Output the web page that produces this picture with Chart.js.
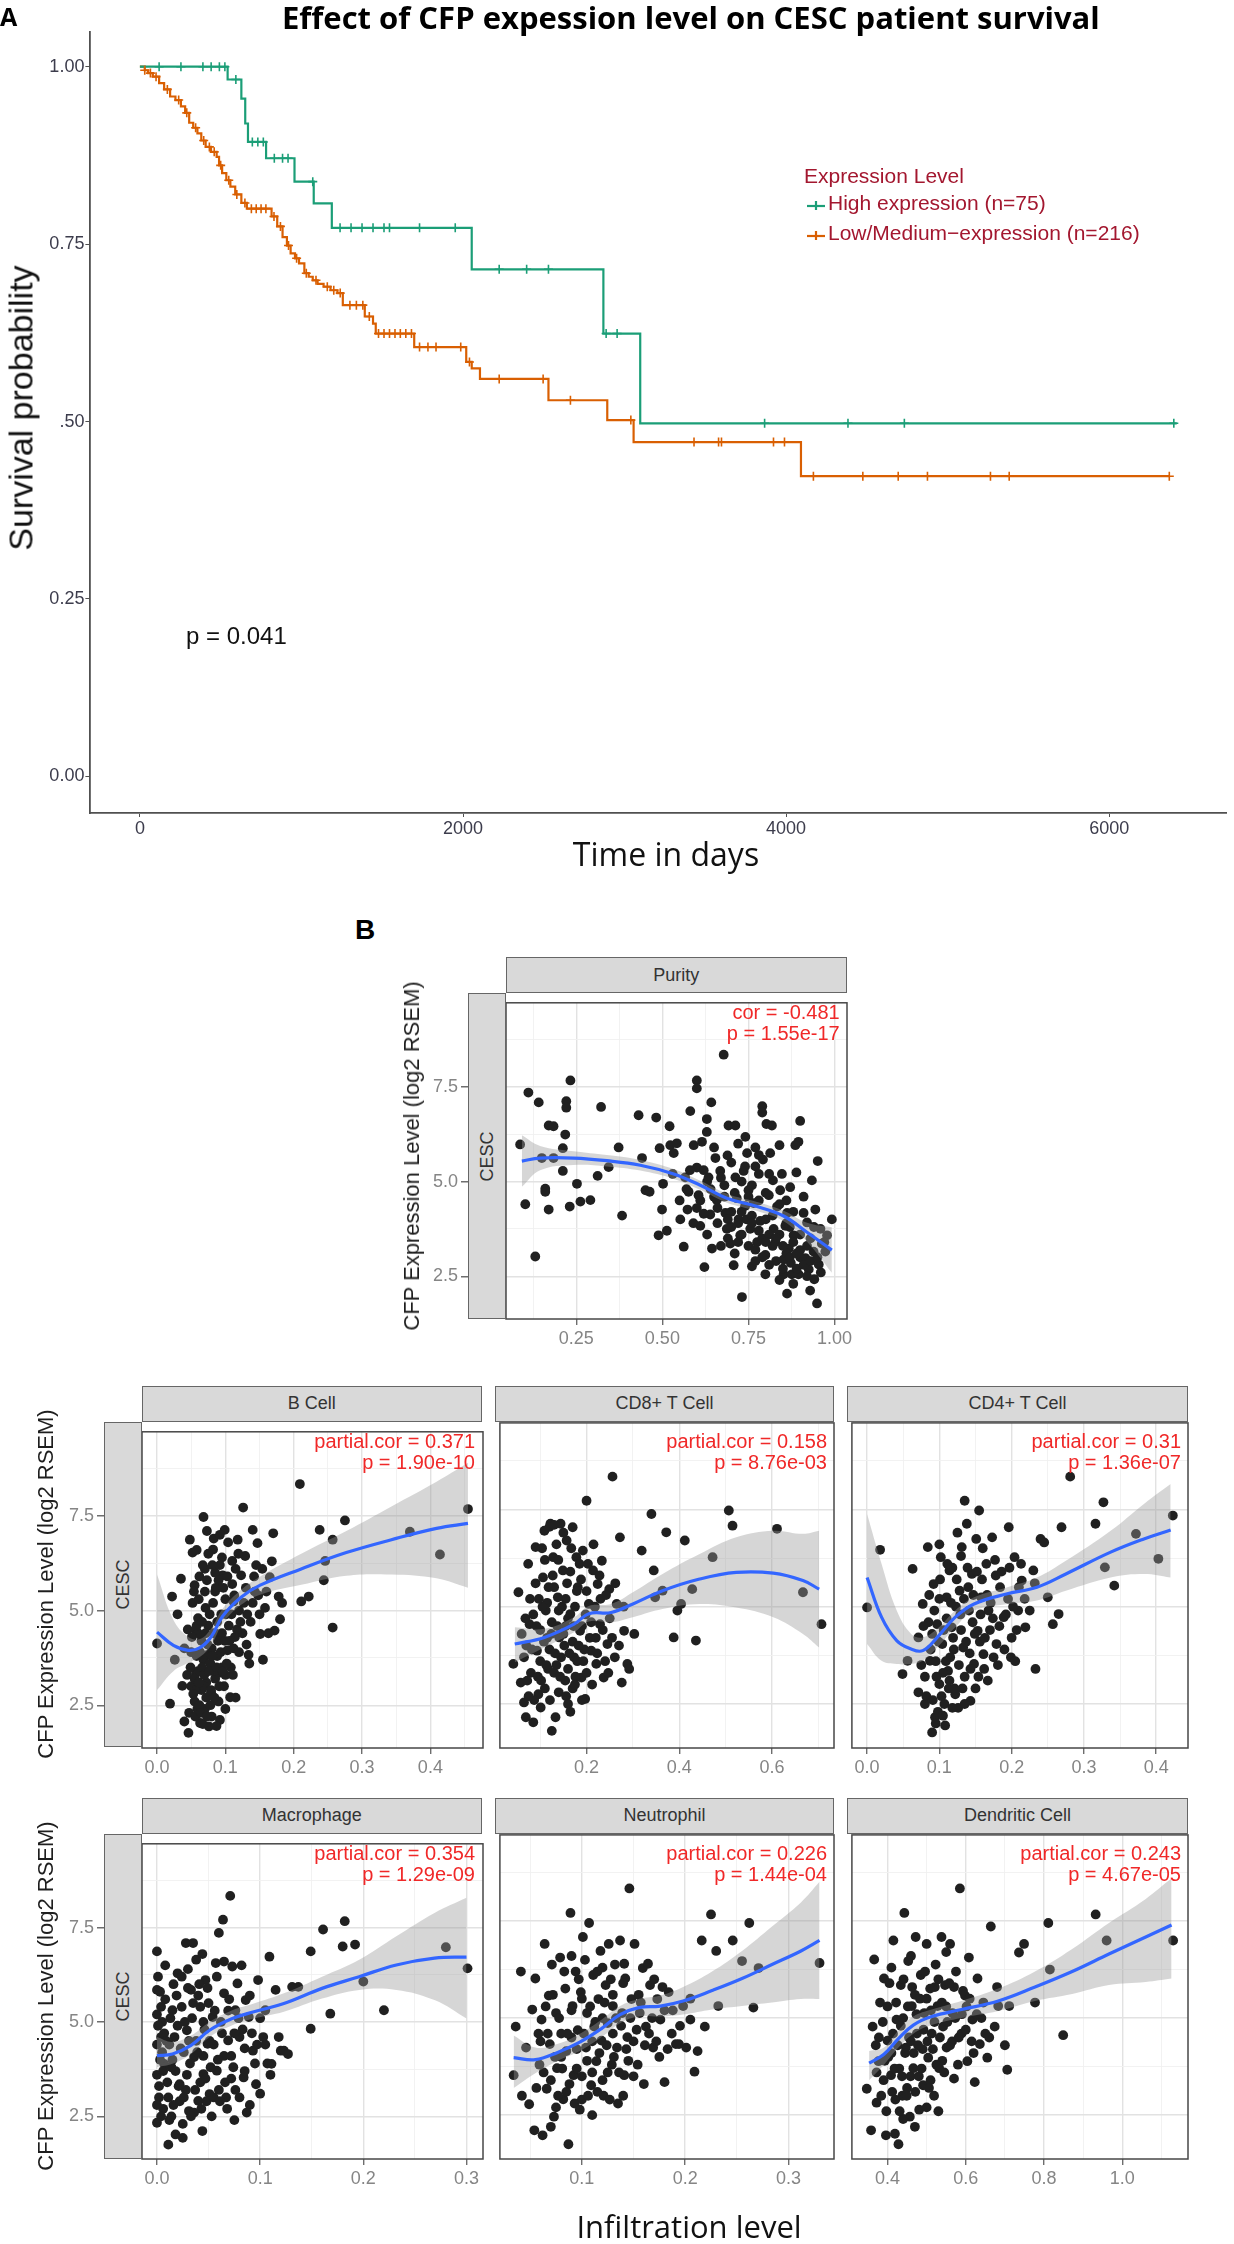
<!DOCTYPE html>
<html><head><meta charset="utf-8">
<script src="https://cdn.jsdelivr.net/npm/chart.js@4.4.1/dist/chart.umd.min.js"></script>
<style>
html,body{margin:0;padding:0;background:#fff;}
#page{position:relative;width:1234px;height:2244px;overflow:hidden;background:#fff;}
canvas{position:absolute;}
.t{position:absolute;white-space:nowrap;line-height:1;}
.strip{position:absolute;box-sizing:border-box;background:#d9d9d9;border:1.5px solid #666;display:flex;align-items:center;justify-content:center;font:18px "Liberation Sans",Arial,sans-serif;color:#333;}
.strip span{white-space:nowrap;display:block;}
.vstrip span{transform:rotate(-90deg);}
</style></head>
<body><div id="page"></div>
<script>
// ---------------- Panel A: Kaplan-Meier data ----------------
const kmXTicks = [0, 2000, 4000, 6000];
const kmYTicks = [0, 0.25, 0.5, 0.75, 1.0];
const kmYLabels = ['0.00', '0.25', '.50', '0.75', '1.00'];
const highT = [0, 543, 628, 652, 669, 781, 957, 1076, 1188, 2054, 2869, 3097, 6418];
const highS = [1.0, 0.982, 0.955, 0.920, 0.894, 0.871, 0.838, 0.8075, 0.773, 0.7145, 0.624, 0.4975, 0.4975];
const lowT = [0, 30, 51, 80, 119, 150, 187, 220, 254, 280, 305, 330, 356, 380, 407, 440, 475, 490, 509, 535, 560, 590, 628, 662, 815, 850, 883, 910, 933, 960, 985, 1018, 1045, 1070, 1100, 1137, 1180, 1223, 1256, 1392, 1443, 1460, 1698, 2020, 2054, 2105, 2529, 2893, 3056, 4092, 6372];
const lowS = [1.0, 0.995, 0.991, 0.986, 0.977, 0.968, 0.958, 0.953, 0.944, 0.935, 0.921, 0.914, 0.906, 0.896, 0.887, 0.880, 0.873, 0.861, 0.850, 0.840, 0.831, 0.820, 0.808, 0.800, 0.789, 0.775, 0.760, 0.748, 0.737, 0.730, 0.723, 0.709, 0.704, 0.699, 0.694, 0.690, 0.685, 0.681, 0.664, 0.648, 0.638, 0.624, 0.605, 0.584, 0.575, 0.560, 0.530, 0.502, 0.471, 0.423, 0.423];
const highCensT = [119, 254, 390, 441, 492, 526, 594, 696, 730, 764, 832, 883, 917, 1070, 1239, 1307, 1375, 1443, 1511, 1545, 1731, 1952, 2224, 2394, 2529, 2886, 2954, 3867, 4383, 4732, 6400];
const highCensS = [1, 1, 1, 1, 1, 1, 0.982, 0.894, 0.894, 0.894, 0.871, 0.871, 0.871, 0.838, 0.773, 0.773, 0.773, 0.773, 0.773, 0.773, 0.773, 0.773, 0.7145, 0.7145, 0.7145, 0.624, 0.624, 0.4975, 0.4975, 0.4975, 0.4975];
const lowCensT = [30, 65, 100, 170, 240, 290, 345, 395, 430, 460, 500, 550, 600, 650, 690, 720, 750, 780, 830, 870, 920, 970, 1030, 1090, 1160, 1200, 1240, 1300, 1340, 1380, 1420, 1477, 1511, 1545, 1579, 1612, 1646, 1681, 1731, 1783, 1833, 1986, 2040, 2224, 2496, 2665, 3039, 3430, 3582, 3600, 3922, 3990, 4169, 4475, 4694, 4875, 5265, 5381, 6372];
const lowCensS = [0.995, 0.991, 0.986, 0.968, 0.953, 0.935, 0.914, 0.896, 0.887, 0.880, 0.861, 0.840, 0.820, 0.808, 0.800, 0.800, 0.800, 0.800, 0.789, 0.775, 0.748, 0.730, 0.709, 0.699, 0.690, 0.685, 0.681, 0.664, 0.664, 0.664, 0.648, 0.624, 0.624, 0.624, 0.624, 0.624, 0.624, 0.624, 0.605, 0.605, 0.605, 0.605, 0.584, 0.560, 0.560, 0.530, 0.502, 0.471, 0.471, 0.471, 0.471, 0.471, 0.423, 0.423, 0.423, 0.423, 0.423, 0.423, 0.423];

// ---------------- Panel B: shared y ticks ----------------
const yMajor = [2.5, 5.0, 7.5];
const yLabels = ['2.5', '5.0', '7.5'];
const yMinor = [3.75, 6.25, 8.75];

// Purity
const purityPts = [[0.087,5.98],[0.111,7.35],[0.102,4.40],[0.141,7.09],[0.131,3.02],[0.150,5.62],[0.160,4.81],[0.160,4.73],[0.170,4.26],[0.170,6.48],[0.184,6.46],[0.184,5.62],[0.211,5.88],[0.211,5.28],[0.218,6.24],[0.221,7.12],[0.221,6.95],[0.233,7.67],[0.231,4.34],[0.252,4.94],[0.262,4.47],[0.291,4.51],[0.312,5.15],[0.322,6.97],[0.344,5.38],[0.373,5.90],[0.383,4.10],[0.431,6.75],[0.441,5.62],[0.451,4.77],[0.463,4.73],[0.482,6.69],[0.492,5.88],[0.499,4.26],[0.502,4.94],[0.489,3.58],[0.513,3.70],[0.521,6.46],[0.523,5.96],[0.533,5.75],[0.542,6.01],[0.552,4.00],[0.562,3.28],[0.566,5.11],[0.576,4.73],[0.581,6.86],[0.573,4.26],[0.591,5.96],[0.600,7.67],[0.600,7.46],[0.600,5.37],[0.605,4.64],[0.610,3.83],[0.615,6.05],[0.622,2.74],[0.629,6.65],[0.629,6.31],[0.634,5.11],[0.639,4.13],[0.642,7.09],[0.644,3.23],[0.654,5.62],[0.658,4.51],[0.668,5.28],[0.678,8.35],[0.683,4.17],[0.687,3.75],[0.689,5.69],[0.692,6.48],[0.697,3.36],[0.707,2.79],[0.712,6.48],[0.712,5.11],[0.716,4.56],[0.721,4.00],[0.726,3.58],[0.731,1.95],[0.736,5.28],[0.741,6.18],[0.744,4.00],[0.746,5.75],[0.750,4.77],[0.755,3.75],[0.760,2.76],[0.765,4.43],[0.770,5.90],[0.775,3.40],[0.780,5.20],[0.784,3.96],[0.790,6.99],[0.790,6.82],[0.792,5.58],[0.799,3.06],[0.799,2.55],[0.802,6.52],[0.809,4.64],[0.813,5.75],[0.818,6.48],[0.821,5.03],[0.823,3.75],[0.828,3.40],[0.833,4.34],[0.840,5.96],[0.842,4.77],[0.847,5.20],[0.852,2.94],[0.852,2.55],[0.857,3.83],[0.862,2.04],[0.862,4.17],[0.867,3.23],[0.871,4.85],[0.873,2.85],[0.876,2.55],[0.881,3.58],[0.886,5.96],[0.889,5.24],[0.895,6.05],[0.895,2.55],[0.900,6.60],[0.900,3.19],[0.910,4.17],[0.915,2.98],[0.920,3.92],[0.925,2.68],[0.929,2.12],[0.934,5.03],[0.939,3.15],[0.941,2.42],[0.944,4.26],[0.949,1.78],[0.951,5.54],[0.954,2.81],[0.959,3.75],[0.963,3.36],[0.992,4.00],[0.978,3.58],[0.973,3.15],[0.60,4.3],[0.62,4.15],[0.66,4.3],[0.68,4.6],[0.70,4.2],[0.72,3.9],[0.74,4.35],[0.76,4.1],[0.78,3.7],[0.80,4.0],[0.82,3.3],[0.84,3.6],[0.86,3.1],[0.88,3.4],[0.90,3.0],[0.70,5.5],[0.73,5.0],[0.77,5.4],[0.81,5.2],[0.86,4.5],[0.91,4.6],[0.66,3.9],[0.69,3.5],[0.75,3.3],[0.79,3.0],[0.83,2.9],[0.87,3.8],[0.89,2.7],[0.93,3.5],[0.63,5.0],[0.58,5.3],[0.55,4.5],[0.65,5.9],[0.72,6.0],[0.78,5.7],
  [0.61,4.5],[0.63,3.6],[0.64,4.8],[0.67,3.3],[0.67,5.1],[0.69,4.0],[0.71,4.7],[0.71,3.1],[0.73,4.2],[0.73,3.6],[0.74,5.4],[0.76,3.9],[0.76,4.9],[0.77,3.2],[0.78,4.5],[0.79,3.5],[0.80,4.7],[0.81,3.6],[0.81,2.8],[0.82,4.1],[0.83,3.5],[0.84,4.4],[0.85,3.3],[0.85,2.7],[0.86,3.9],[0.87,3.0],[0.88,4.2],[0.89,3.1],[0.90,3.6],[0.91,2.8],[0.92,3.3],[0.93,2.9],[0.94,3.8],[0.95,3.0],[0.96,2.6],[0.97,3.4],[0.88,2.3],[0.92,2.5],[0.84,2.4],[0.80,3.4],[0.75,4.6],[0.70,3.8],[0.68,4.9],[0.65,4.6],[0.62,5.3],[0.57,4.8],[0.53,5.2],[0.59,3.9],[0.72,3.4],[0.77,2.9]];
const purityFitX = [0.092,0.145,0.242,0.339,0.436,0.533,0.610,0.687,0.775,0.852,0.920,0.992];
const purityFitY = [5.54,5.62,5.62,5.55,5.43,5.20,4.90,4.56,4.34,4.09,3.66,3.19];
const purityFitHi = [6.22,5.94,5.80,5.70,5.57,5.33,5.02,4.68,4.46,4.23,3.91,3.79];
const purityFitLo = [4.86,5.30,5.44,5.40,5.29,5.07,4.78,4.44,4.22,3.95,3.41,2.59];

// B Cell
const bPts = [[0.000,4.13],[0.019,2.54],[0.022,5.37],[0.026,3.70],[0.030,4.90],[0.035,5.84],[0.037,3.01],[0.040,2.07],[0.046,1.77],[0.048,6.87],[0.052,6.53],[0.055,5.67],[0.057,4.47],[0.057,3.35],[0.059,2.41],[0.063,2.03],[0.068,7.47],[0.070,6.10],[0.071,5.07],[0.074,3.83],[0.076,1.94],[0.079,2.84],[0.082,6.61],[0.085,5.50],[0.087,4.38],[0.090,3.35],[0.092,2.11],[0.096,5.93],[0.099,7.13],[0.101,4.90],[0.103,3.95],[0.107,2.71],[0.110,6.31],[0.112,5.24],[0.114,4.30],[0.118,6.87],[0.123,5.93],[0.126,7.72],[0.129,6.44],[0.132,4.90],[0.134,3.83],[0.140,7.13],[0.143,5.50],[0.147,6.78],[0.151,4.38],[0.154,6.10],[0.158,5.07],[0.165,5.88],[0.170,7.04],[0.172,4.47],[0.180,4.77],[0.178,5.37],[0.209,8.34],[0.211,5.24],[0.222,5.37],[0.238,7.13],[0.244,5.80],[0.246,6.31],[0.257,6.87],[0.257,4.55],[0.275,7.38],[0.370,7.08],[0.414,6.48],[0.455,7.68],[0.045,4.5],[0.050,3.9],[0.050,3.0],[0.055,2.6],[0.060,3.4],[0.060,4.8],[0.062,5.9],[0.065,2.9],[0.065,4.2],[0.068,3.7],[0.070,2.4],[0.070,5.5],[0.072,3.1],[0.075,4.6],[0.075,6.5],[0.078,3.6],[0.080,4.0],[0.080,2.2],[0.082,5.2],[0.085,3.2],[0.085,6.0],[0.088,4.7],[0.090,2.6],[0.090,5.8],[0.093,3.9],[0.095,4.4],[0.095,6.4],[0.098,3.0],[0.100,5.3],[0.100,2.4],[0.104,6.8],[0.105,4.6],[0.108,3.5],[0.110,5.7],[0.112,4.0],[0.115,6.1],[0.120,3.9],[0.120,5.0],[0.125,4.4],[0.130,5.6],[0.135,3.6],[0.140,5.2],[0.145,6.2],[0.150,4.9],[0.155,3.7],[0.160,5.5],[0.058,6.6],[0.052,5.2],[0.040,4.0],[0.044,3.3],[0.067,2.0],[0.083,6.9],[0.073,7.1],[0.092,7.0],[0.057,2.9],[0.087,1.95],[0.100,3.3],[0.115,2.7],[0.060,4.4],[0.055,3.2],[0.062,2.5],[0.068,3.0],[0.072,2.7],[0.078,2.5],[0.082,3.4],[0.066,3.5],[0.058,3.8],[0.074,4.1],[0.088,3.8],[0.095,3.5],
  [0.047,2.3],[0.049,3.5],[0.051,4.3],[0.053,2.8],[0.054,5.5],[0.056,2.2],[0.058,4.6],[0.061,3.1],[0.061,5.3],[0.063,3.9],[0.064,2.3],[0.066,4.7],[0.067,6.2],[0.069,3.3],[0.071,4.4],[0.073,2.2],[0.073,5.8],[0.076,3.4],[0.077,4.9],[0.079,2.9],[0.081,3.8],[0.081,6.2],[0.083,4.4],[0.084,2.7],[0.086,5.6],[0.087,3.5],[0.089,4.2],[0.091,3.0],[0.092,6.2],[0.094,4.9],[0.096,3.4],[0.097,5.6],[0.099,4.2],[0.102,3.6],[0.103,5.9],[0.106,4.2],[0.109,4.9],[0.111,3.3],[0.113,5.4],[0.117,4.5],[0.119,6.5],[0.122,4.7],[0.127,5.2],[0.131,4.1],[0.137,4.7],[0.142,5.9],[0.148,5.4],[0.163,4.4],[0.168,6.3],[0.183,5.2]];
const bFitX = [0, 0.024, 0.046, 0.063, 0.079, 0.096, 0.123, 0.151, 0.211, 0.277, 0.343, 0.409, 0.455];
const bFitY = [4.43, 4.08, 3.95, 4.02, 4.30, 4.85, 5.35, 5.67, 6.10, 6.53, 6.87, 7.17, 7.30];
const bFitHi = [5.95, 4.75, 4.30, 4.25, 4.52, 5.05, 5.55, 5.90, 6.50, 7.10, 7.75, 8.40, 8.90];
const bFitLo = [2.90, 3.40, 3.62, 3.78, 4.08, 4.65, 5.15, 5.42, 5.68, 5.92, 5.95, 5.85, 5.60];

// CD8+ T Cell
const cd8Pts = [[0.042,3.53],[0.053,5.37],[0.058,3.05],[0.065,2.54],[0.069,2.16],[0.074,6.10],[0.077,4.55],[0.085,2.03],[0.090,6.53],[0.093,3.87],[0.096,2.75],[0.101,2.41],[0.106,5.75],[0.109,6.95],[0.112,4.90],[0.117,3.40],[0.122,7.13],[0.125,1.81],[0.128,6.27],[0.133,2.16],[0.138,5.24],[0.141,4.21],[0.144,7.13],[0.149,5.93],[0.154,3.10],[0.157,6.70],[0.160,2.50],[0.165,4.81],[0.170,7.04],[0.173,3.70],[0.178,6.27],[0.181,5.50],[0.186,4.38],[0.189,3.18],[0.192,6.44],[0.197,2.63],[0.200,7.72],[0.205,5.07],[0.210,3.87],[0.214,5.93],[0.221,3.53],[0.224,5.58],[0.229,4.55],[0.233,6.18],[0.237,3.18],[0.245,4.04],[0.249,5.45],[0.256,8.34],[0.261,3.70],[0.265,5.07],[0.272,6.78],[0.276,3.05],[0.281,4.38],[0.288,3.53],[0.292,3.40],[0.303,4.30],[0.319,6.44],[0.340,7.38],[0.345,5.93],[0.348,5.24],[0.364,5.41],[0.372,6.91],[0.388,4.21],[0.396,4.90],[0.404,5.07],[0.412,6.70],[0.428,5.45],[0.436,4.13],[0.472,6.27],[0.507,7.47],[0.515,7.08],[0.611,7.00],[0.667,5.37],[0.707,4.55],[0.070,4.0],[0.080,3.3],[0.085,4.8],[0.090,5.6],[0.100,3.6],[0.100,4.4],[0.110,2.9],[0.110,6.2],[0.115,5.1],[0.120,3.9],[0.125,4.6],[0.130,3.3],[0.130,5.5],[0.135,6.6],[0.140,2.8],[0.140,4.9],[0.145,3.7],[0.150,4.3],[0.150,6.9],[0.155,5.2],[0.160,3.4],[0.160,4.7],[0.165,5.9],[0.170,2.9],[0.170,4.1],[0.175,5.0],[0.180,3.6],[0.185,6.1],[0.190,4.5],[0.195,3.9],[0.200,5.4],[0.200,3.3],[0.210,4.6],[0.215,6.6],[0.220,4.2],[0.230,5.2],[0.240,3.6],[0.250,4.7],[0.120,7.05],[0.130,7.10],[0.095,3.2],[0.075,2.7],[0.060,4.3],[0.105,5.0],[0.165,2.3],[0.190,2.6],
  [0.065,3.7],[0.068,4.7],[0.072,3.1],[0.078,5.2],[0.082,3.9],[0.087,2.6],[0.092,4.5],[0.097,5.2],[0.102,3.1],[0.104,6.5],[0.108,4.1],[0.113,3.5],[0.118,5.5],[0.121,2.6],[0.124,4.3],[0.127,5.8],[0.132,3.8],[0.137,4.5],[0.139,6.2],[0.143,3.2],[0.147,5.0],[0.152,4.0],[0.156,2.7],[0.158,5.6],[0.163,3.8],[0.167,6.5],[0.172,4.5],[0.176,3.2],[0.179,5.4],[0.183,4.0],[0.188,5.7],[0.193,3.6],[0.198,4.8],[0.203,6.1],[0.207,4.2],[0.212,3.0],[0.218,5.0],[0.223,3.8],[0.228,5.8],[0.235,4.4],[0.242,5.3],[0.247,3.3],[0.255,4.2],[0.262,5.6],[0.270,4.0],[0.280,5.0],[0.115,4.2],[0.135,3.5],[0.155,4.5],[0.175,3.0]];
const cd8FitX = [0.045, 0.109, 0.173, 0.205, 0.253, 0.300, 0.364, 0.444, 0.523, 0.603, 0.667, 0.702];
const cd8FitY = [4.04, 4.21, 4.55, 4.82, 4.85, 5.07, 5.41, 5.71, 5.88, 5.86, 5.67, 5.45];
const cd8FitHi = [4.47, 4.43, 4.73, 5.02, 5.07, 5.37, 5.84, 6.35, 6.78, 6.95, 6.87, 6.95];
const cd8FitLo = [3.57, 3.95, 4.34, 4.62, 4.60, 4.73, 4.94, 5.07, 4.98, 4.73, 4.30, 3.95];

// CD4+ T Cell
const cd4Pts = [[0.000,4.98],[0.018,6.46],[0.049,3.27],[0.056,3.61],[0.063,5.97],[0.071,2.80],[0.071,4.21],[0.077,5.07],[0.080,2.50],[0.084,6.53],[0.087,3.61],[0.090,1.77],[0.092,5.58],[0.094,2.16],[0.097,4.55],[0.100,3.01],[0.102,6.27],[0.104,4.04],[0.107,2.50],[0.110,5.24],[0.112,3.35],[0.114,5.93],[0.117,4.47],[0.122,2.75],[0.128,5.41],[0.131,6.53],[0.133,3.95],[0.135,7.72],[0.138,7.13],[0.141,4.90],[0.143,2.58],[0.145,5.84],[0.148,3.53],[0.151,6.74],[0.153,4.38],[0.155,7.47],[0.158,5.24],[0.161,3.78],[0.165,6.10],[0.168,4.90],[0.173,6.78],[0.179,4.04],[0.184,5.50],[0.189,4.73],[0.196,7.04],[0.199,3.70],[0.204,6.27],[0.209,4.90],[0.214,5.67],[0.219,4.47],[0.230,5.93],[0.233,3.40],[0.240,6.74],[0.245,6.65],[0.250,5.24],[0.257,4.55],[0.265,4.81],[0.269,7.04],[0.281,8.34],[0.316,7.13],[0.327,7.68],[0.329,6.01],[0.342,5.54],[0.372,6.87],[0.403,6.23],[0.423,7.34],[0.090,4.3],[0.095,3.6],[0.100,5.2],[0.105,3.3],[0.110,4.7],[0.113,2.9],[0.118,6.0],[0.120,3.9],[0.123,5.0],[0.126,2.4],[0.130,4.4],[0.130,6.3],[0.135,3.2],[0.140,5.5],[0.142,3.8],[0.146,4.6],[0.150,2.9],[0.152,5.9],[0.156,4.1],[0.160,6.5],[0.162,3.4],[0.166,5.3],[0.170,4.4],[0.175,3.7],[0.178,5.8],[0.183,4.5],[0.190,3.9],[0.195,5.2],[0.200,4.2],[0.205,3.6],[0.210,5.5],[0.080,3.2],[0.085,4.6],[0.098,2.3],[0.108,1.95],[0.100,6.6],[0.125,6.9],[0.115,3.7],
  [0.075,3.5],[0.078,4.5],[0.082,2.7],[0.086,5.3],[0.088,3.9],[0.091,2.6],[0.093,4.9],[0.096,3.2],[0.099,4.1],[0.101,5.7],[0.103,2.7],[0.106,4.4],[0.109,3.6],[0.111,6.1],[0.114,3.1],[0.116,5.1],[0.119,4.2],[0.121,2.9],[0.124,5.7],[0.127,3.5],[0.129,4.8],[0.132,2.9],[0.134,5.2],[0.137,4.1],[0.139,6.0],[0.143,3.4],[0.147,5.3],[0.149,4.3],[0.154,3.2],[0.157,4.8],[0.159,5.7],[0.163,4.2],[0.167,3.1],[0.171,5.1],[0.174,4.7],[0.177,6.2],[0.181,3.5],[0.186,5.9],[0.192,4.8],[0.197,6.0],[0.202,5.0],[0.207,4.4],[0.213,6.1],[0.218,5.2],[0.225,4.9],[0.232,5.6],[0.105,2.2],[0.095,2.0],[0.118,2.4],[0.135,2.5]];
const cd4FitX = [0, 0.020, 0.041, 0.061, 0.077, 0.097, 0.122, 0.148, 0.194, 0.235, 0.275, 0.337, 0.383, 0.420];
const cd4FitY = [5.75, 4.73, 4.13, 3.91, 3.87, 4.21, 4.73, 5.07, 5.33, 5.50, 5.84, 6.40, 6.74, 6.97];
const cd4FitHi = [7.38, 6.10, 4.90, 4.30, 4.21, 4.43, 4.90, 5.24, 5.50, 5.75, 6.18, 6.95, 7.64, 8.15];
const cd4FitLo = [4.04, 3.61, 3.53, 3.53, 3.61, 3.95, 4.47, 4.90, 5.07, 5.16, 5.41, 5.75, 5.84, 5.75];

// Macrophage
const macPts = [[0.000,6.87],[0.000,5.85],[0.000,2.33],[0.004,4.60],[0.007,3.89],[0.011,1.75],[0.015,5.31],[0.018,2.02],[0.020,6.29],[0.022,3.35],[0.025,1.93],[0.028,7.09],[0.029,4.78],[0.031,2.64],[0.033,5.85],[0.035,7.09],[0.036,4.07],[0.038,6.65],[0.040,2.91],[0.042,5.40],[0.044,2.11],[0.045,3.62],[0.047,6.11],[0.049,4.42],[0.051,3.09],[0.054,5.13],[0.057,6.56],[0.058,3.71],[0.060,7.36],[0.064,7.71],[0.065,5.76],[0.067,3.00],[0.069,4.51],[0.071,8.34],[0.073,6.47],[0.074,3.80],[0.076,5.31],[0.078,6.02],[0.080,4.60],[0.084,3.53],[0.086,5.58],[0.089,5.13],[0.093,4.24],[0.096,3.35],[0.098,6.11],[0.103,4.60],[0.105,5.31],[0.109,6.73],[0.111,3.89],[0.115,5.85],[0.118,4.60],[0.120,4.24],[0.123,4.24],[0.127,4.15],[0.131,5.93],[0.137,5.93],[0.149,4.82],[0.149,6.87],[0.161,7.45],[0.168,5.22],[0.180,7.00],[0.182,7.67],[0.192,7.05],[0.200,6.07],[0.220,5.31],[0.280,6.98],[0.301,6.42],[0.002,3.0],[0.003,4.0],[0.005,5.0],[0.006,2.7],[0.008,5.6],[0.010,3.4],[0.012,4.4],[0.014,2.5],[0.016,6.0],[0.018,3.7],[0.020,4.9],[0.022,2.9],[0.024,5.4],[0.026,4.2],[0.028,3.2],[0.030,6.4],[0.032,3.9],[0.034,5.1],[0.036,2.6],[0.038,4.5],[0.040,5.7],[0.042,3.4],[0.044,6.8],[0.046,4.8],[0.048,2.9],[0.050,5.5],[0.052,3.8],[0.055,4.4],[0.058,6.2],[0.060,3.2],[0.062,5.0],[0.065,4.1],[0.068,2.7],[0.070,5.6],[0.072,3.5],[0.075,4.7],[0.080,3.0],[0.082,6.5],[0.085,4.3],[0.090,5.7],[0.095,3.9],[0.100,5.1],[0.105,4.4],[0.110,3.6],[0.001,6.2],[0.004,5.4],[0.007,4.7],[0.012,2.4],[0.015,4.0],[0.025,2.3],[0.030,5.9],[0.045,4.1],[0.055,3.0],[0.065,6.6],[0.075,2.4],[0.085,3.7],[0.090,2.8],[0.100,3.1],
  [0.000,4.4],[0.000,3.6],[0.000,5.2],[0.000,2.8],[0.001,4.9],[0.002,3.3],[0.003,5.8],[0.004,2.5],[0.005,4.2],[0.006,3.7],[0.008,6.5],[0.009,4.5],[0.011,3.0],[0.013,5.1],[0.014,3.8],[0.016,2.8],[0.017,4.6],[0.019,5.7],[0.021,3.3],[0.023,4.3],[0.024,6.2],[0.026,3.0],[0.027,5.0],[0.029,3.6],[0.031,4.5],[0.033,2.5],[0.035,5.5],[0.037,3.2],[0.039,4.2],[0.041,6.0],[0.043,2.7],[0.045,5.0],[0.047,3.5],[0.049,5.9],[0.051,4.5],[0.053,2.5],[0.056,5.3],[0.059,4.0],[0.061,2.9],[0.063,4.7],[0.066,3.4],[0.069,5.3],[0.072,4.1],[0.076,3.2],[0.079,5.1],[0.083,4.8],[0.087,2.6],[0.092,4.7],[0.097,4.4],[0.107,3.9]];
const macFitX = [0, 0.015, 0.033, 0.051, 0.073, 0.094, 0.123, 0.160, 0.196, 0.232, 0.269, 0.300];
const macFitY = [4.11, 4.15, 4.38, 4.78, 5.09, 5.27, 5.49, 5.89, 6.20, 6.51, 6.69, 6.72];
const macFitHi = [4.60, 4.47, 4.64, 5.00, 5.31, 5.49, 5.76, 6.20, 6.65, 7.27, 7.89, 8.29];
const macFitLo = [3.80, 3.89, 4.15, 4.60, 4.91, 5.09, 5.27, 5.62, 5.85, 5.85, 5.58, 5.09];

// Neutrophil
const neuPts = [[0.034,3.53],[0.036,4.78],[0.041,6.20],[0.042,3.00],[0.046,4.24],[0.049,2.78],[0.052,5.22],[0.054,2.11],[0.055,6.02],[0.059,3.80],[0.061,4.96],[0.062,1.98],[0.064,6.91],[0.066,3.18],[0.068,5.58],[0.069,4.33],[0.071,6.38],[0.073,2.46],[0.075,5.13],[0.076,3.71],[0.079,6.56],[0.080,4.60],[0.082,2.91],[0.084,5.76],[0.085,4.15],[0.087,1.75],[0.089,7.71],[0.091,5.31],[0.092,3.53],[0.094,6.20],[0.096,4.69],[0.098,2.64],[0.099,5.67],[0.101,7.09],[0.104,4.24],[0.105,5.13],[0.107,7.45],[0.109,3.27],[0.111,6.11],[0.112,4.78],[0.114,3.89],[0.116,5.49],[0.118,6.73],[0.119,4.42],[0.121,3.00],[0.123,5.85],[0.125,4.87],[0.126,6.91],[0.129,3.80],[0.130,5.31],[0.132,6.38],[0.134,4.24],[0.137,7.00],[0.139,5.13],[0.141,3.53],[0.142,6.02],[0.144,4.51],[0.146,8.34],[0.148,5.49],[0.151,6.91],[0.154,3.80],[0.156,5.13],[0.159,6.29],[0.162,4.78],[0.166,5.85],[0.169,4.24],[0.173,5.49],[0.176,4.96],[0.180,3.35],[0.184,5.67],[0.187,4.60],[0.191,4.33],[0.194,4.33],[0.198,5.31],[0.201,4.24],[0.205,4.96],[0.209,3.62],[0.212,4.15],[0.216,7.00],[0.219,4.78],[0.225,7.67],[0.230,6.73],[0.232,5.31],[0.246,7.00],[0.255,6.47],[0.262,7.45],[0.266,5.27],[0.271,6.29],[0.330,6.42],[0.070,3.4],[0.080,4.0],[0.085,3.1],[0.090,4.5],[0.095,3.7],[0.100,2.9],[0.100,5.5],[0.105,3.9],[0.110,4.4],[0.115,3.1],[0.120,5.0],[0.125,3.6],[0.130,4.6],[0.135,2.8],[0.140,5.9],[0.145,3.9],[0.150,4.4],[0.155,5.6],[0.160,3.3],[0.165,4.6],[0.170,6.0],[0.175,4.0],[0.180,5.2],[0.060,4.4],[0.065,5.3],[0.075,2.7],[0.110,2.5],[0.120,6.3],[0.090,6.6],[0.140,3.0],[0.130,5.6],
  [0.056,3.2],[0.058,4.6],[0.063,3.6],[0.067,4.6],[0.070,2.2],[0.072,5.6],[0.074,4.0],[0.077,3.0],[0.078,5.0],[0.081,3.7],[0.083,6.2],[0.086,4.6],[0.088,3.3],[0.090,5.2],[0.093,2.8],[0.095,4.2],[0.097,6.0],[0.100,3.5],[0.102,4.6],[0.103,6.5],[0.106,3.0],[0.108,5.3],[0.110,3.6],[0.113,4.9],[0.115,6.2],[0.117,4.1],[0.120,3.4],[0.122,5.4],[0.124,4.3],[0.127,2.9],[0.128,6.0],[0.131,4.0],[0.133,5.0],[0.136,3.6],[0.138,4.8],[0.141,6.4],[0.143,4.2],[0.147,5.0],[0.150,3.5],[0.153,4.7],[0.157,5.4],[0.161,4.3],[0.164,6.4],[0.168,5.0],[0.172,4.4],[0.178,5.8],[0.183,4.2],[0.188,5.2],[0.195,4.8],[0.205,5.5]];
const neuFitX = [0.034, 0.055, 0.076, 0.098, 0.119, 0.137, 0.155, 0.176, 0.198, 0.226, 0.255, 0.284, 0.312, 0.330];
const neuFitY = [3.98, 3.93, 4.11, 4.38, 4.73, 5.09, 5.27, 5.31, 5.44, 5.71, 6.02, 6.38, 6.73, 7.00];
const neuFitHi = [4.55, 4.24, 4.33, 4.60, 4.96, 5.31, 5.49, 5.58, 5.80, 6.20, 6.73, 7.36, 7.98, 8.51];
const neuFitLo = [3.20, 3.58, 3.89, 4.15, 4.51, 4.87, 5.04, 5.04, 5.09, 5.22, 5.31, 5.40, 5.49, 5.49];

// Dendritic Cell
const denPts = [[0.347,3.18],[0.358,2.11],[0.362,4.78],[0.366,6.51],[0.372,2.82],[0.377,3.89],[0.381,5.40],[0.391,6.02],[0.396,1.98],[0.400,4.42],[0.409,3.53],[0.415,7.00],[0.419,2.02],[0.423,4.96],[0.428,1.75],[0.434,5.85],[0.438,3.00],[0.443,7.71],[0.447,4.24],[0.453,6.47],[0.457,2.46],[0.462,5.31],[0.466,3.71],[0.472,7.09],[0.475,4.60],[0.481,2.64],[0.485,6.11],[0.491,3.27],[0.494,5.13],[0.500,6.91],[0.504,3.98],[0.509,5.76],[0.513,4.60],[0.519,3.00],[0.523,6.38],[0.528,5.31],[0.532,3.71],[0.538,7.09],[0.542,4.78],[0.547,5.85],[0.551,4.24],[0.560,6.91],[0.566,5.13],[0.570,3.44],[0.575,6.20],[0.585,8.34],[0.589,4.60],[0.598,5.58],[0.604,3.89],[0.608,6.56],[0.617,4.96],[0.623,3.35],[0.630,6.02],[0.636,4.33],[0.645,5.40],[0.655,3.98],[0.664,7.36],[0.674,4.78],[0.683,5.31],[0.706,3.67],[0.711,5.31],[0.736,6.69],[0.749,6.91],[0.777,5.40],[0.811,7.45],[0.815,6.25],[0.849,4.56],[0.932,7.67],[0.960,7.00],[1.130,7.00],[0.390,3.4],[0.400,5.3],[0.410,4.1],[0.420,2.9],[0.430,3.7],[0.440,5.0],[0.450,3.2],[0.460,4.4],[0.470,5.6],[0.480,3.5],[0.490,4.2],[0.500,2.7],[0.500,5.5],[0.510,3.4],[0.520,4.9],[0.530,6.0],[0.540,3.9],[0.550,5.3],[0.560,4.3],[0.570,5.8],[0.580,3.8],[0.590,5.1],[0.600,4.7],[0.610,5.5],[0.620,4.1],[0.640,5.0],[0.660,4.5],[0.680,5.8],[0.700,4.3],[0.440,2.4],[0.470,2.2],[0.410,6.3],[0.460,6.6],[0.530,2.6],[0.550,6.7],[0.370,4.3],
  [0.372,3.6],[0.378,4.5],[0.384,3.0],[0.388,4.9],[0.393,3.9],[0.397,2.6],[0.402,4.0],[0.405,5.9],[0.412,3.1],[0.414,4.6],[0.418,3.7],[0.422,5.4],[0.426,4.3],[0.431,2.6],[0.434,4.8],[0.437,3.5],[0.441,6.0],[0.445,4.1],[0.449,3.0],[0.452,5.3],[0.455,4.5],[0.459,3.5],[0.463,5.8],[0.467,4.1],[0.471,3.1],[0.474,5.1],[0.478,4.3],[0.483,5.5],[0.487,3.7],[0.492,4.7],[0.496,6.2],[0.502,4.4],[0.506,3.2],[0.511,5.2],[0.516,4.2],[0.521,5.8],[0.525,3.8],[0.534,4.5],[0.539,5.4],[0.545,3.6],[0.553,4.9],[0.558,5.9],[0.565,4.4],[0.573,5.0],[0.582,4.5],[0.593,5.7],[0.602,5.3],[0.615,4.4],[0.628,5.1],[0.650,4.6]];
const denFitX = [0.353, 0.391, 0.428, 0.466, 0.513, 0.589, 0.683, 0.777, 0.872, 0.966, 1.060, 1.126];
const denFitY = [3.84, 4.07, 4.47, 4.82, 5.04, 5.22, 5.44, 5.80, 6.20, 6.65, 7.09, 7.40];
const denFitHi = [4.15, 4.24, 4.69, 5.04, 5.22, 5.44, 5.76, 6.20, 6.78, 7.45, 8.07, 8.60];
const denFitLo = [3.40, 3.80, 4.24, 4.60, 4.82, 5.00, 5.18, 5.44, 5.62, 5.85, 5.93, 6.02];

// x tick values per panel
const purityXMajor = [0.25, 0.5, 0.75, 1.0], purityXLabels = ['0.25','0.50','0.75','1.00'], purityXMinor = [0.125, 0.375, 0.625, 0.875];
const bXMajor = [0, 0.1, 0.2, 0.3, 0.4], bXLabels = ['0.0','0.1','0.2','0.3','0.4'], bXMinor = [0.05, 0.15, 0.25, 0.35, 0.45];
const cd8XMajor = [0.2, 0.4, 0.6], cd8XLabels = ['0.2','0.4','0.6'], cd8XMinor = [0.1, 0.3, 0.5, 0.7];
const cd4XMajor = [0, 0.1, 0.2, 0.3, 0.4], cd4XLabels = ['0.0','0.1','0.2','0.3','0.4'], cd4XMinor = [0.05, 0.15, 0.25, 0.35];
const macXMajor = [0, 0.1, 0.2, 0.3], macXLabels = ['0.0','0.1','0.2','0.3'], macXMinor = [0.05, 0.15, 0.25];
const neuXMajor = [0.1, 0.2, 0.3], neuXLabels = ['0.1','0.2','0.3'], neuXMinor = [0.05, 0.15, 0.25];
const denXMajor = [0.4, 0.6, 0.8, 1.0], denXLabels = ['0.4','0.6','0.8','1.0'], denXMinor = [0.5, 0.7, 0.9, 1.1];

// ---------------- helpers ----------------
Chart.defaults.font.family = '"Liberation Sans", Arial, Helvetica, sans-serif';
Chart.defaults.animation = false;
Chart.defaults.responsive = false;
Chart.defaults.events = [];
Chart.defaults.plugins.legend.display = false;
Chart.defaults.plugins.tooltip.enabled = false;

const page = document.getElementById('page');
const zipXY = (xs, ys) => xs.map((x, i) => ({x: x, y: ys[i]}));
const toXY = arr => arr.map(p => ({x: p[0], y: p[1]}));
const near = (v, arr) => arr.findIndex(m => Math.abs(m - v) < 1e-9);

function makeCanvas(left, top, w, h) {
  const c = document.createElement('canvas');
  c.width = Math.round(w); c.height = Math.round(h);
  c.style.left = left + 'px'; c.style.top = top + 'px';
  page.appendChild(c);
  return c;
}
function addText(txt, x, y, css) {
  const d = document.createElement('div');
  d.className = 't';
  d.textContent = txt;
  d.style.left = x + 'px'; d.style.top = y + 'px';
  Object.assign(d.style, css);
  page.appendChild(d);
  return d;
}
function addStrip(txt, left, top, w, h, vertical) {
  const d = document.createElement('div');
  d.className = 'strip' + (vertical ? ' vstrip' : '');
  d.style.left = left + 'px'; d.style.top = top + 'px';
  d.style.width = w + 'px'; d.style.height = h + 'px';
  const s = document.createElement('span'); s.textContent = txt; d.appendChild(s);
  page.appendChild(d);
}

const panelBorder = {
  id: 'panelBorder',
  afterDraw(chart) {
    const {ctx, chartArea: a} = chart;
    ctx.save();
    ctx.strokeStyle = '#474747';
    ctx.lineWidth = 1.5;
    ctx.strokeRect(a.left, a.top, a.right - a.left, a.bottom - a.top);
    ctx.restore();
  }
};

// ---------------- Panel A ----------------
(function () {
  const cv = makeCanvas(0, 0, 1234, 880);
  new Chart(cv, {
    type: 'scatter',
    data: { datasets: [
      { type: 'line', data: zipXY(highT, highS), stepped: true, borderColor: '#1B9E77', borderWidth: 2.2, pointRadius: 0, fill: false, order: 1 },
      { type: 'line', data: zipXY(lowT, lowS), stepped: true, borderColor: '#D95F02', borderWidth: 2.2, pointRadius: 0, fill: false, order: 2 },
      { type: 'scatter', data: zipXY(highCensT, highCensS), pointStyle: 'cross', pointRadius: 4.5, borderColor: '#1B9E77', backgroundColor: '#1B9E77', borderWidth: 1.6, order: 0 },
      { type: 'scatter', data: zipXY(lowCensT, lowCensS), pointStyle: 'cross', pointRadius: 4.5, borderColor: '#D95F02', backgroundColor: '#D95F02', borderWidth: 1.6, order: 0 }
    ]},
    options: {
      layout: { padding: { left: 0, top: 32, right: 8, bottom: 0 } },
      scales: {
        x: { type: 'linear', min: -312.6, max: 6723,
          afterBuildTicks: s => { s.ticks = kmXTicks.map(v => ({value: v})); },
          afterFit: s => { s.height = 67; },
          border: { display: true, color: '#505050', width: 1.8 },
          grid: { display: true, drawOnChartArea: false, drawTicks: true, tickLength: 4, tickColor: '#505050' },
          ticks: { autoSkip: false, maxRotation: 0, minRotation: 0, padding: 1, color: '#3c3c4c', font: { size: 18 }, callback: v => String(v) } },
        y: { type: 'linear', min: -0.0516, max: 1.0489,
          afterBuildTicks: s => { s.ticks = kmYTicks.map(v => ({value: v})); },
          afterFit: s => { s.width = 89.4; },
          border: { display: true, color: '#505050', width: 1.8 },
          grid: { display: true, drawOnChartArea: false, drawTicks: true, tickLength: 4, tickColor: '#505050' },
          ticks: { autoSkip: false, padding: 1, color: '#3c3c4c', font: { size: 18 }, callback: v => { const i = near(v, kmYTicks); return i >= 0 ? kmYLabels[i] : ''; } } }
      }
    }
  });
})();

addText('A', 0, 16, { font: 'bold 25px "Open Sans", sans-serif', color: '#000', transform: 'translate(0,-50%)' });
addText('Effect of CFP expession level on CESC patient survival', 282, 17, { font: 'bold 31px "Open Sans", sans-serif', color: '#000', transform: 'translate(0,-50%)' });
addText('Survival probability', 21, 408, { font: '34px "Liberation Sans", Arial, sans-serif', color: '#111', transform: 'translate(-50%,-50%) rotate(-90deg)' });
addText('p = 0.041', 186, 636, { font: '24px "Liberation Sans", Arial, sans-serif', color: '#111', transform: 'translate(0,-50%)' });
addText('Time in days', 666, 853, { font: '32px "Open Sans", sans-serif', color: '#111', transform: 'translate(-50%,-50%)' });
addText('Expression Level', 804, 176, { font: '21px "Liberation Sans", Arial, sans-serif', color: '#A3172F', transform: 'translate(0,-50%)' });
addText('High expression (n=75)', 828, 203, { font: '21px "Liberation Sans", Arial, sans-serif', color: '#A3172F', transform: 'translate(0,-50%)' });
addText('Low/Medium\u2212expression (n=216)', 828, 233, { font: '21px "Liberation Sans", Arial, sans-serif', color: '#A3172F', transform: 'translate(0,-50%)' });
function legendKey(top, color) {
  const ns = 'http://www.w3.org/2000/svg';
  const svg = document.createElementNS(ns, 'svg');
  svg.setAttribute('width', '22'); svg.setAttribute('height', '16');
  svg.style.position = 'absolute'; svg.style.left = '805px'; svg.style.top = top + 'px';
  [[2, 10, 20, 10], [11, 5, 11, 14]].forEach(l => {
    const e = document.createElementNS(ns, 'line');
    e.setAttribute('x1', l[0]); e.setAttribute('y1', l[1]); e.setAttribute('x2', l[2]); e.setAttribute('y2', l[3]);
    e.setAttribute('stroke', color); e.setAttribute('stroke-width', '2.2');
    svg.appendChild(e);
  });
  page.appendChild(svg);
}
legendKey(196, '#1B9E77');
legendKey(226, '#D95F02');

// ---------------- Panel B ----------------
const Y_MIN = 1.37, Y_MAX = 9.72;
const yAll = yMajor.concat(yMinor).sort((a, b) => a - b);

function scatterPanel(p) {
  const yW = p.showY ? 92 : 0, padT = 4, padR = 16, xH = 44;
  const w = yW + (p.R - p.L) + padR, h = padT + (p.B - p.T) + xH;
  const cv = makeCanvas(p.L - yW, p.T - padT, w, h);
  const xAll = p.xMajor.concat(p.xMinor).sort((a, b) => a - b);
  const xm = c => c.tick && near(c.tick.value, p.xMajor) >= 0;
  const ym = c => c.tick && near(c.tick.value, yMajor) >= 0;
  new Chart(cv, {
    type: 'scatter',
    data: { datasets: [
      { type: 'line', data: zipXY(p.fx, p.fy), borderColor: '#3366FF', borderWidth: 3.2, pointRadius: 0, tension: 0.4, fill: false, order: 0 },
      { type: 'line', data: zipXY(p.fx, p.lo), borderWidth: 0, borderColor: 'rgba(0,0,0,0)', pointRadius: 0, tension: 0.4, fill: false, order: 2 },
      { type: 'line', data: zipXY(p.fx, p.hi), borderWidth: 0, borderColor: 'rgba(0,0,0,0)', pointRadius: 0, tension: 0.4, fill: '-1', backgroundColor: 'rgba(153,153,153,0.4)', order: 1 },
      { type: 'scatter', data: toXY(p.pts), pointRadius: 4.9, backgroundColor: '#202020', borderWidth: 0, order: 3 }
    ]},
    options: {
      layout: { padding: { left: 0, top: padT, right: padR, bottom: 0 } },
      scales: {
        x: { type: 'linear', min: p.xMin, max: p.xMax,
          afterBuildTicks: s => { s.ticks = xAll.map(v => ({value: v})); },
          afterFit: s => { s.height = xH; },
          border: { display: false },
          grid: { color: c => xm(c) ? '#E2E2E2' : '#F1F1F1', lineWidth: c => xm(c) ? 1.4 : 0.9, drawTicks: true, tickLength: 6, tickWidth: 1.4, tickColor: c => xm(c) ? '#6e6e6e' : 'rgba(0,0,0,0)' },
          ticks: { autoSkip: false, maxRotation: 0, minRotation: 0, padding: 3, color: '#858585', font: { size: 18 }, callback: v => { const i = near(v, p.xMajor); return i >= 0 ? p.xLabels[i] : ''; } } },
        y: { type: 'linear', min: Y_MIN, max: Y_MAX,
          afterBuildTicks: s => { s.ticks = yAll.map(v => ({value: v})); },
          afterFit: s => { s.width = yW; },
          border: { display: false },
          grid: { color: c => ym(c) ? '#E2E2E2' : '#F1F1F1', lineWidth: c => ym(c) ? 1.4 : 0.9, drawTicks: p.showY, tickLength: p.showY ? 45 : 0, tickWidth: 1.4, tickColor: c => ym(c) ? '#6e6e6e' : 'rgba(0,0,0,0)' },
          ticks: { display: p.showY, autoSkip: false, padding: 3, color: '#858585', font: { size: 18 }, callback: v => { const i = near(v, yMajor); return i >= 0 ? yLabels[i] : ''; } } }
      }
    },
    plugins: [panelBorder]
  });
  addStrip(p.name, p.L, p.T - 36, p.R - p.L, 36, false);
  if (p.showY) addStrip('CESC', p.L - 38, p.T, 38, p.B - p.T, true);
  const red = { font: '20px "Liberation Sans", Arial, sans-serif', color: '#F02828', transform: 'translate(-100%,-50%)' };
  addText(p.ann1, p.R - 7, p.T + 19, red);
  addText(p.ann2, p.R - 7, p.T + 40, red);
}

const C1 = [141.5, 482], C2 = [495, 834], C3 = [847, 1188];
const R1 = [1421.5, 1747], R2 = [1833.5, 2158.5];

scatterPanel({ name: 'Purity', L: 505.7, R: 846.7, T: 993.3, B: 1319, showY: true, xMin: 0.046, xMax: 1.036,
  xMajor: purityXMajor, xLabels: purityXLabels, xMinor: purityXMinor, pts: purityPts,
  fx: purityFitX, fy: purityFitY, lo: purityFitLo, hi: purityFitHi, ann1: 'cor = -0.481', ann2: 'p = 1.55e-17' });
scatterPanel({ name: 'B Cell', L: C1[0], R: C1[1], T: R1[0], B: R1[1], showY: true, xMin: -0.022, xMax: 0.477,
  xMajor: bXMajor, xLabels: bXLabels, xMinor: bXMinor, pts: bPts,
  fx: bFitX, fy: bFitY, lo: bFitLo, hi: bFitHi, ann1: 'partial.cor = 0.371', ann2: 'p = 1.90e-10' });
scatterPanel({ name: 'CD8+ T Cell', L: C2[0], R: C2[1], T: R1[0], B: R1[1], showY: false, xMin: 0.013, xMax: 0.734,
  xMajor: cd8XMajor, xLabels: cd8XLabels, xMinor: cd8XMinor, pts: cd8Pts,
  fx: cd8FitX, fy: cd8FitY, lo: cd8FitLo, hi: cd8FitHi, ann1: 'partial.cor = 0.158', ann2: 'p = 8.76e-03' });
scatterPanel({ name: 'CD4+ T Cell', L: C3[0], R: C3[1], T: R1[0], B: R1[1], showY: false, xMin: -0.021, xMax: 0.444,
  xMajor: cd4XMajor, xLabels: cd4XLabels, xMinor: cd4XMinor, pts: cd4Pts,
  fx: cd4FitX, fy: cd4FitY, lo: cd4FitLo, hi: cd4FitHi, ann1: 'partial.cor = 0.31', ann2: 'p = 1.36e-07' });
scatterPanel({ name: 'Macrophage', L: C1[0], R: C1[1], T: R2[0], B: R2[1], showY: true, xMin: -0.0145, xMax: 0.316,
  xMajor: macXMajor, xLabels: macXLabels, xMinor: macXMinor, pts: macPts,
  fx: macFitX, fy: macFitY, lo: macFitLo, hi: macFitHi, ann1: 'partial.cor = 0.354', ann2: 'p = 1.29e-09' });
scatterPanel({ name: 'Neutrophil', L: C2[0], R: C2[1], T: R2[0], B: R2[1], showY: false, xMin: 0.0207, xMax: 0.344,
  xMajor: neuXMajor, xLabels: neuXLabels, xMinor: neuXMinor, pts: neuPts,
  fx: neuFitX, fy: neuFitY, lo: neuFitLo, hi: neuFitHi, ann1: 'partial.cor = 0.226', ann2: 'p = 1.44e-04' });
scatterPanel({ name: 'Dendritic Cell', L: C3[0], R: C3[1], T: R2[0], B: R2[1], showY: false, xMin: 0.309, xMax: 1.168,
  xMajor: denXMajor, xLabels: denXLabels, xMinor: denXMinor, pts: denPts,
  fx: denFitX, fy: denFitY, lo: denFitLo, hi: denFitHi, ann1: 'partial.cor = 0.243', ann2: 'p = 4.67e-05' });

addText('B', 355, 930, { font: 'bold 28px "Liberation Sans", Arial, sans-serif', color: '#000', transform: 'translate(0,-50%)' });
const yTitleCss = { font: '22px "Liberation Sans", Arial, sans-serif', color: '#1e1e1e', transform: 'translate(-50%,-50%) rotate(-90deg)' };
addText('CFP Expression Level (log2 RSEM)', 412, 1156, yTitleCss);
addText('CFP Expression Level (log2 RSEM)', 46, 1584, yTitleCss);
addText('CFP Expression Level (log2 RSEM)', 46, 1996, yTitleCss);
addText('Infiltration level', 689, 2226, { font: '31px "Open Sans", sans-serif', color: '#111', transform: 'translate(-50%,-50%)' });
</script>
</body></html>
